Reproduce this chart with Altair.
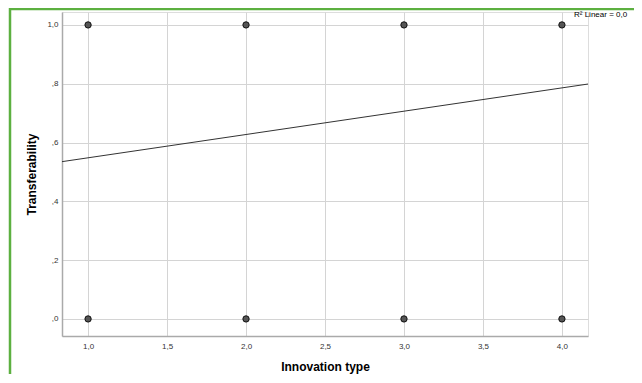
import altair as alt
import pandas as pd

# Data points (Innovation type vs Transferability)
innovation_type = [1, 1, 2, 2, 3, 3, 4, 4]
transferability = [0, 1, 0, 1, 0, 1, 0, 1]

# Fit line end points
fit_x = [0.835, 4.165]
fit_y = [0.535, 0.799]

x_ticks = [1.0, 1.5, 2.0, 2.5, 3.0, 3.5, 4.0]
y_ticks = [0.0, 0.2, 0.4, 0.6, 0.8, 1.0]

pts = pd.DataFrame({"x": innovation_type, "y": transferability})
fit = pd.DataFrame({"x": fit_x, "y": fit_y})

FONT = "Liberation Sans"
xscale = alt.Scale(domain=[0.835, 4.165], nice=False, zero=False)
yscale = alt.Scale(domain=[-0.058, 1.044], nice=False, zero=False)

xaxis = alt.Axis(
    values=x_ticks,
    labelExpr="replace(format(datum.value, '.1f'), '.', ',')",
    title="Innovation type",
    titleFont=FONT, titleFontSize=12, titleFontWeight="bold", titleColor="#000",
    titlePadding=11,
    labelFont=FONT, labelFontSize=8, labelColor="#333", labelPadding=6,
    ticks=False, domainColor="#aaaaaa", domainWidth=1.5,
    gridColor="#d4d4d4", gridWidth=1,
)
yaxis = alt.Axis(
    values=y_ticks,
    labelExpr="datum.value < 1 ? replace(format(datum.value, '.1f'), '0.', ',') : replace(format(datum.value, '.1f'), '.', ',')",
    title="Transferability",
    titleFont=FONT, titleFontSize=12, titleFontWeight="bold", titleColor="#000",
    titlePadding=8,
    labelFont=FONT, labelFontSize=8, labelColor="#333", labelPadding=4,
    ticks=False, domainColor="#aaaaaa", domainWidth=1.5,
    gridColor="#d4d4d4", gridWidth=1,
)

points = alt.Chart(pts).mark_point(
    filled=True, shape="circle", size=40, fill="#555555", stroke="#111111", strokeWidth=1, opacity=1
).encode(
    x=alt.X("x:Q", scale=xscale, axis=xaxis),
    y=alt.Y("y:Q", scale=yscale, axis=yaxis),
)

line = alt.Chart(fit).mark_line(color="#333333", strokeWidth=1).encode(
    x=alt.X("x:Q", scale=xscale),
    y=alt.Y("y:Q", scale=yscale),
)

r2 = alt.Chart(pd.DataFrame({"t": ["R² Linear = 0,0"]})).mark_text(
    align="left", baseline="middle", font=FONT, fontSize=8, color="#000"
).encode(x=alt.value(512), y=alt.value(3), text="t:N")

border = alt.Chart(pd.DataFrame({"a": [0]})).mark_rect(
    fill=None, stroke="#5cb040", strokeWidth=2.5
).encode(x=alt.value(-52), x2=alt.value(700), y=alt.value(-3), y2=alt.value(500))

chart = alt.layer(border, points, line, r2).properties(
    width=526, height=324,
    autosize=alt.AutoSizeParams(type="none"),
    padding={"left": 54, "top": 4, "right": 46, "bottom": 38},
).configure_view(stroke=None).configure(background="white")

chart.save("out.html", embed_options={"renderer": "svg", "actions": False})
